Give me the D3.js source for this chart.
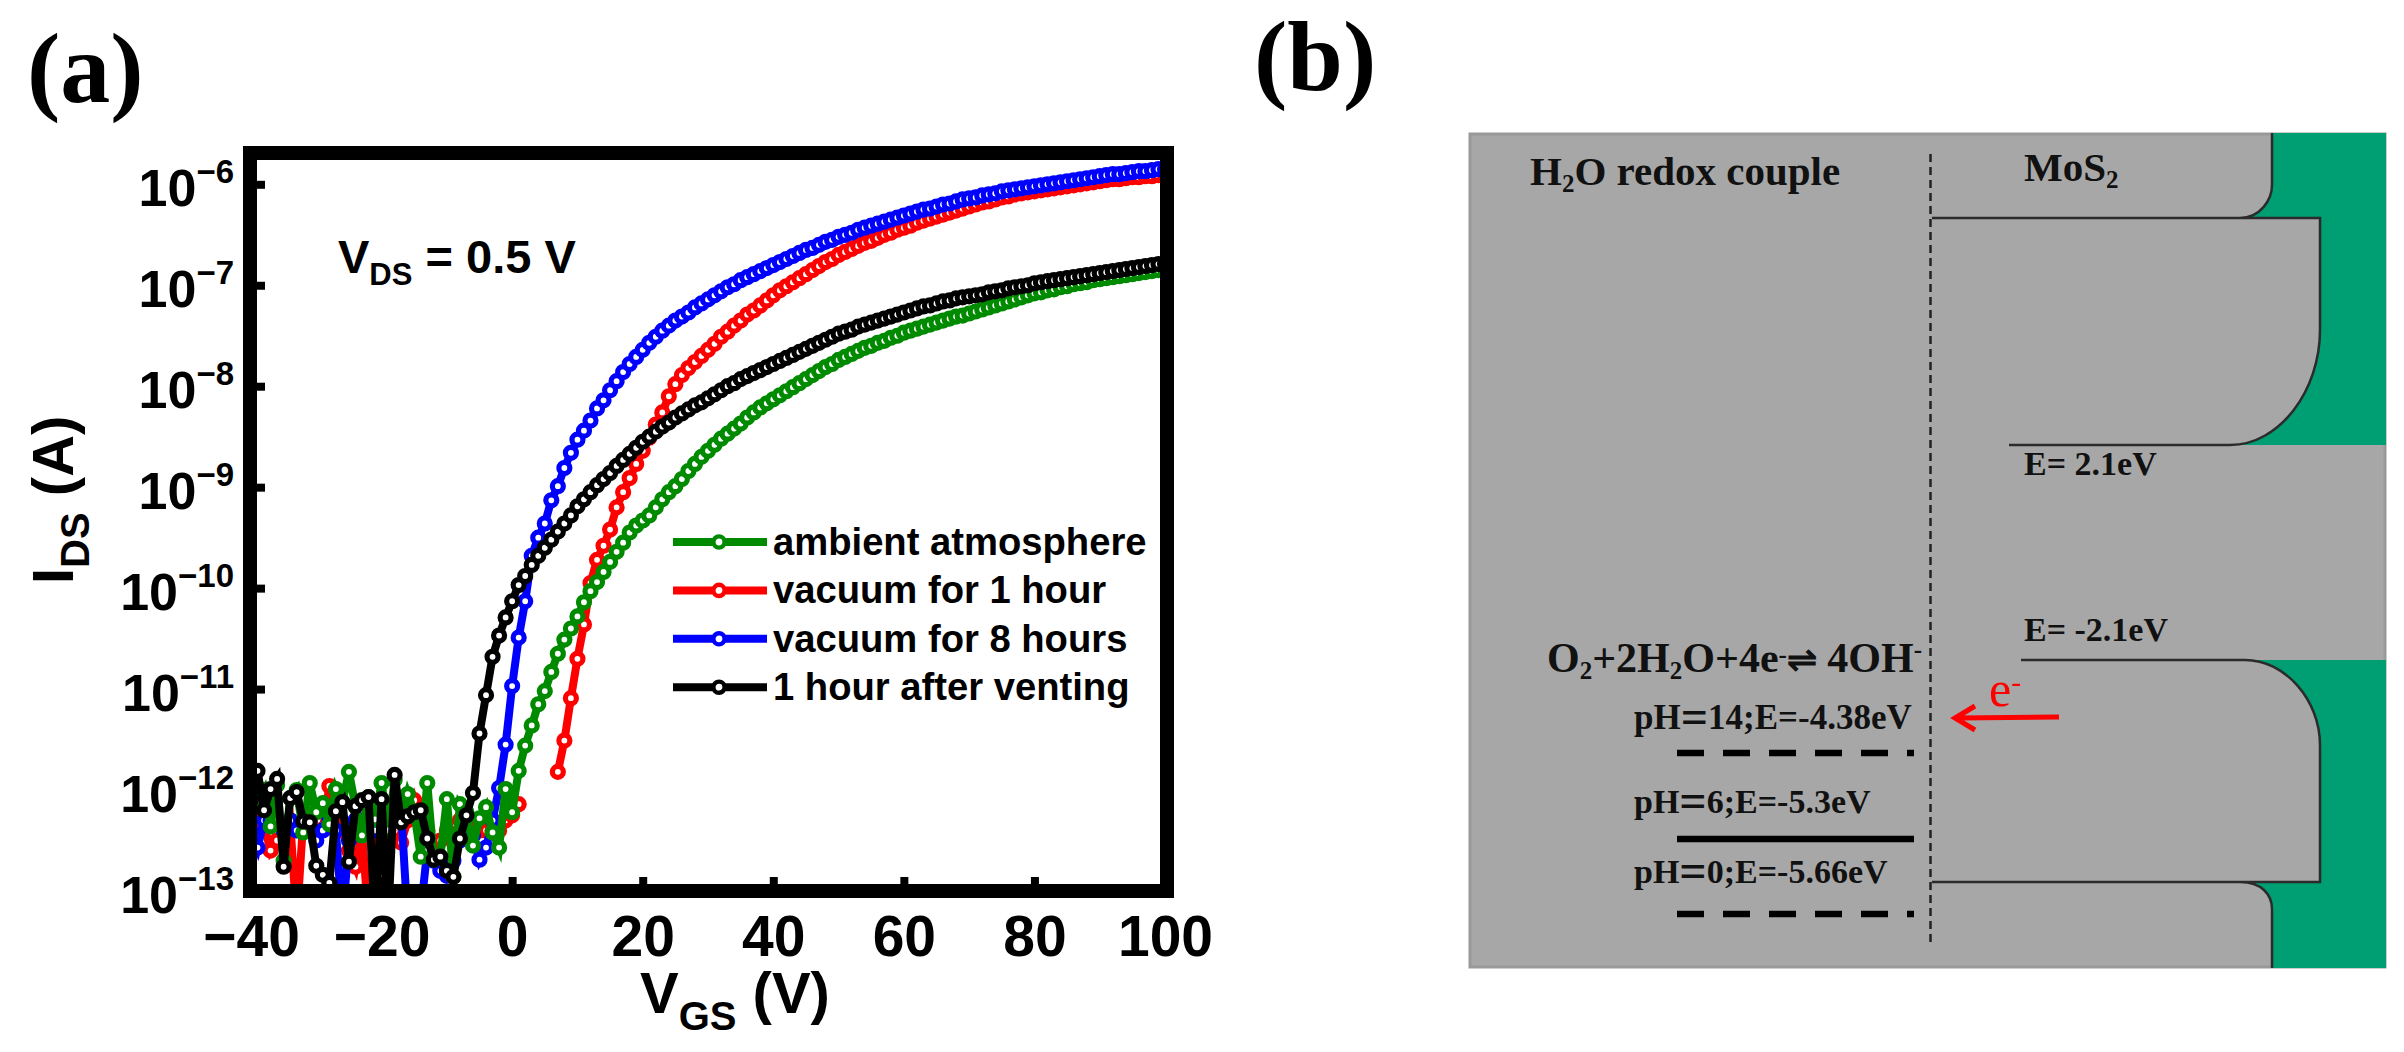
<!DOCTYPE html>
<html>
<head>
<meta charset="utf-8">
<script src="https://cdn.jsdelivr.net/npm/d3@7/dist/d3.min.js"></script>
<style>
    html, body { margin: 0; padding: 0; background: #fff; }
    svg { display: block; }
    .sans { font-family: "Liberation Sans", Arial, sans-serif; font-weight: bold; fill: #000; }
    .serif { font-family: "Liberation Serif", "Times New Roman", serif; font-weight: bold; fill: #111; }
</style>
</head>
<body>
<div id="chart"></div>
<script>
// gate voltage, 1 V steps
var vgs = d3.range(-40, 101);

// log10(IDS), one value per volt, -40 V to 100 V. null = no data
var logAmbient = [-12.1,-12.1,-12.0,-12.36,-11.95,-12.7,-12.08,-12.0,-12.42,-11.93,-12.22,-12.13,-12.34,-11.99,-12.12,-11.82,-12.16,-12.45,-12.07,-12.29,-11.93,-12.4,-11.9,-12.3,-12.04,-12.22,-12.66,-11.93,-12.69,-12.66,-12.09,-12.86,-12.14,-12.22,-12.55,-12.28,-12.17,-12.42,-12.57,-11.99,-12.22,
    -11.81,-11.56,-11.36,-11.15,-11.02,-10.83,-10.65,-10.51,-10.40,-10.28,-10.14,-10.03,-9.94,-9.84,-9.74,-9.64,-9.55,-9.45,-9.38,-9.33,-9.28,-9.20,-9.12,-9.05,-8.99,-8.92,-8.84,-8.77,-8.70,-8.64,
    -8.58,-8.52,-8.47,-8.42,-8.37,-8.31,-8.26,-8.21,-8.17,-8.13,-8.09,-8.05,-8.01,-7.97,-7.93,-7.89,-7.85,-7.81,-7.78,-7.74,
    -7.71,-7.68,-7.65,-7.62,-7.60,-7.57,-7.55,-7.52,-7.50,-7.47,-7.45,-7.43,-7.41,-7.39,-7.37,-7.35,-7.33,-7.31,-7.30,-7.28,
    -7.26,-7.24,-7.22,-7.20,-7.18,-7.16,-7.14,-7.12,-7.10,-7.08,-7.07,-7.05,-7.04,-7.02,-7.01,-6.99,-6.98,-6.97,-6.95,-6.94,
    -6.93,-6.92,-6.91,-6.90,-6.89,-6.88,-6.87,-6.86,-6.85,-6.84];

var logVac1h = [-12.3,-12.2,-12.35,-12.6,-12.5,-12.4,-12.3,-13.3,-12.3,-12.3,-12.45,-12.39,-11.96,-12.3,-12.4,-12.6,-12.76,-12.4,-13.3,-12.3,-12.2,-12.4,-12.4,-12.52,-12.3,-12.1,-12.3,-12.4,-12.6,-12.5,-12.4,-12.5,-12.3,-12.3,-12.4,-12.4,-12.4,-12.4,-12.4,-12.3,-12.25,
    -12.14,null,null,null,null,null,-11.82,-11.51,-11.09,-10.70,-10.36,-9.95,-9.72,-9.58,-9.42,-9.2,-9.05,-8.91,-8.77,-8.64,-8.51,-8.38,-8.26,-8.1,-7.98,-7.89,-7.82,-7.76,-7.70,-7.64,
    -7.58,-7.51,-7.46,-7.40,-7.35,-7.29,-7.25,-7.20,-7.15,-7.10,-7.05,-7.01,-6.97,-6.93,-6.89,-6.85,-6.81,-6.77,-6.74,-6.70,
    -6.67,-6.64,-6.61,-6.58,-6.56,-6.53,-6.50,-6.48,-6.45,-6.43,-6.41,-6.38,-6.36,-6.34,-6.32,-6.30,-6.28,-6.26,-6.24,-6.22,
    -6.20,-6.18,-6.17,-6.15,-6.13,-6.12,-6.10,-6.09,-6.08,-6.07,-6.06,-6.05,-6.04,-6.03,-6.02,-6.01,-6.00,-5.99,-5.98,-5.97,
    -5.96,-5.95,-5.95,-5.94,-5.93,-5.93,-5.92,-5.92,-5.91,-5.91];

var logVac8h = [-12.4,-12.57,-12.3,-12.3,-12.3,-12.4,-12.3,-12.4,-12.3,-12.4,-12.5,-12.4,-12.3,-12.4,-13.3,-12.5,-12.3,-12.3,-12.3,-12.4,-12.3,-12.4,-12.3,-12.2,-13.3,-13.3,-13.2,-12.6,-12.7,-12.8,-12.85,-12.7,-12.5,-12.4,-12.45,-12.69,-12.57,-12.3,-11.98,-11.55,-10.97,
    -10.49,-10.13,-9.68,-9.5,-9.36,-9.13,-8.99,-8.81,-8.66,-8.53,-8.44,-8.34,-8.22,-8.14,-8.04,-7.95,-7.86,-7.78,-7.71,-7.64,-7.57,-7.51,-7.45,-7.40,-7.35,-7.31,-7.27,-7.22,-7.18,-7.14,
    -7.10,-7.06,-7.02,-6.99,-6.95,-6.92,-6.89,-6.86,-6.83,-6.80,-6.77,-6.74,-6.71,-6.68,-6.65,-6.63,-6.60,-6.57,-6.55,-6.52,
    -6.50,-6.48,-6.45,-6.43,-6.41,-6.39,-6.37,-6.35,-6.33,-6.31,-6.29,-6.27,-6.25,-6.24,-6.22,-6.20,-6.19,-6.17,-6.15,-6.14,
    -6.13,-6.11,-6.10,-6.09,-6.07,-6.06,-6.05,-6.04,-6.03,-6.02,-6.01,-6.00,-5.99,-5.98,-5.97,-5.96,-5.95,-5.94,-5.93,-5.92,
    -5.91,-5.90,-5.90,-5.89,-5.88,-5.87,-5.87,-5.86,-5.85,-5.85];

var logVented = [-12.1,-11.81,-12.2,-11.99,-11.89,-12.76,-12.08,-12.02,-12.31,-12.32,-12.75,-12.84,-12.92,-12.21,-12.12,-12.71,-12.16,-12.1,-12.07,-13.3,-12.09,-13.3,-11.85,-12.32,-12.26,-12.22,-12.2,-12.48,-12.69,-12.66,-12.8,-12.86,-12.48,-12.25,-12.03,-11.44,-11.06,-10.68,-10.47,-10.29,-10.13,
    -9.97,-9.88,-9.77,-9.68,-9.60,-9.52,-9.44,-9.36,-9.28,-9.19,-9.12,-9.05,-8.98,-8.92,-8.86,-8.79,-8.73,-8.67,-8.61,-8.55,-8.50,-8.45,-8.40,-8.36,-8.31,-8.27,-8.23,-8.19,-8.16,-8.12,
    -8.08,-8.04,-8.00,-7.97,-7.93,-7.90,-7.87,-7.84,-7.81,-7.78,-7.75,-7.72,-7.69,-7.66,-7.63,-7.60,-7.57,-7.54,-7.51,-7.48,
    -7.46,-7.44,-7.41,-7.39,-7.37,-7.35,-7.33,-7.31,-7.29,-7.27,-7.25,-7.23,-7.21,-7.20,-7.18,-7.16,-7.15,-7.13,-7.12,-7.11,
    -7.10,-7.09,-7.07,-7.06,-7.05,-7.03,-7.02,-7.01,-7.00,-6.98,-6.97,-6.96,-6.95,-6.94,-6.93,-6.92,-6.91,-6.90,-6.89,-6.88,
    -6.87,-6.86,-6.85,-6.84,-6.83,-6.82,-6.81,-6.80,-6.79,-6.79];

var legendLabels = ["ambient atmosphere", "vacuum for 1 hour", "vacuum for 8 hours", "1 hour after venting"];
var legendValues = [logAmbient, logVac1h, logVac8h, logVented];
var legendColors = ["#008a00", "#ff0000", "#0000ff", "#000000"];
var drawOrder = [1, 2, 0, 3];

var xTicks = [-40, -20, 0, 20, 40, 60, 80, 100];
var yTicks = [-6, -7, -8, -9, -10, -11, -12, -13];

// panel b: energy levels in eV
var bandLevels = [2.1, -2.1];
var redoxLevels = [-4.38, -5.3, -5.66];
var redoxLabels = [["pH", "14;E=-4.38eV"], ["pH", "6;E=-5.3eV"], ["pH", "0;E=-5.66eV"]];
var redoxDash = ["27 19", null, "27 19"];

var svg = d3.select("#chart").append("svg").attr("width", 2404).attr("height", 1052);

/* ------- PANEL A -------*/
var x = d3.scaleLinear().domain([-40, 100]).range([251, 1165]);
var y = d3.scaleLinear().domain([-13, -5.69]).range([891, 153]);

svg.append("clipPath").attr("id", "plot").append("rect")
    .attr("x", 250).attr("y", 153).attr("width", 917).attr("height", 738);

var line = d3.line()
    .defined(function(d) { return d.v !== null; })
    .x(function(d) { return x(d.x); })
    .y(function(d) { return y(d.v); });

var plot = svg.append("g").attr("clip-path", "url(#plot)");

drawOrder.forEach(function(i) {
    var pts = vgs.map(function(v, j) { return { x: v, v: legendValues[i][j] }; });
    plot.append("path")
        .attr("d", line(pts))
        .attr("fill", "none")
        .attr("stroke", legendColors[i])
        .attr("stroke-width", 8);
    plot.append("g").selectAll("circle")
        .data(pts.filter(function(d) { return d.v !== null; }))
        .join("circle")
        .attr("cx", function(d) { return x(d.x); })
        .attr("cy", function(d) { return y(d.v); })
        .attr("r", 5.5)
        .attr("fill", "#fff")
        .attr("stroke", legendColors[i])
        .attr("stroke-width", 5.2);
});

var xAxis = svg.append("g").attr("transform", "translate(0,891)")
    .call(d3.axisBottom(x).tickValues(xTicks).tickSize(-14).tickFormat(function(d) {
        return String(d).replace("-", "\u2212");
    }));
xAxis.select(".domain").remove();
xAxis.selectAll("line").attr("stroke", "#000").attr("stroke-width", 8);
xAxis.selectAll("text").attr("class", "sans").attr("y", 65).attr("dy", 0)
    .style("font-size", "57px");

var yAxis = svg.append("g").attr("transform", "translate(251,0)")
    .call(d3.axisLeft(y).tickValues(yTicks).tickSize(-14));
yAxis.select(".domain").remove();
yAxis.selectAll("line").attr("stroke", "#000").attr("stroke-width", 8);
yAxis.selectAll("text").each(function(d) {
    var t = d3.select(this).text(null)
        .attr("class", "sans").attr("x", -17).attr("y", 21).attr("dy", 0)
        .attr("text-anchor", "end");
    t.append("tspan").style("font-size", "52px").text("10");
    t.append("tspan").style("font-size", "33px").attr("dy", -23).text("\u2212" + Math.abs(d));
});

svg.append("rect")
    .attr("x", 250).attr("y", 153).attr("width", 917).attr("height", 738)
    .attr("fill", "none").attr("stroke", "#000").attr("stroke-width", 14);

// text made of runs [string, font size, baseline shift]
function runs(sel, parts) {
    var last = 0;
    parts.forEach(function(p) {
        var shift = p[2] || 0;
        sel.append("tspan").style("font-size", p[1] + "px").attr("dy", shift - last).text(p[0]);
        last = shift;
    });
    return sel;
}

runs(svg.append("text").attr("class", "sans").attr("x", 640).attr("y", 1013),
    [["V", 58], ["GS", 40, 17], [" (V)", 58]]);
runs(svg.append("text").attr("class", "sans")
        .attr("transform", "translate(73,584) rotate(-90)"),
    [["I", 58], ["DS", 40, 16], [" (A)", 58]]);
runs(svg.append("text").attr("class", "sans").attr("x", 338).attr("y", 273),
    [["V", 47], ["DS", 31, 12], [" = 0.5 V", 47]]);

var legend = svg.append("g").selectAll("g")
    .data(legendLabels)
    .join("g")
    .attr("transform", function(d, i) { return "translate(0," + (542 + i * 48.4) + ")"; });
legend.append("line")
    .attr("x1", 673).attr("x2", 767)
    .attr("stroke", function(d, i) { return legendColors[i]; })
    .attr("stroke-width", 8);
legend.append("circle")
    .attr("cx", 719).attr("r", 5.6).attr("fill", "#fff")
    .attr("stroke", function(d, i) { return legendColors[i]; })
    .attr("stroke-width", 4.4);
legend.append("text")
    .attr("class", "sans").attr("x", 773).attr("y", 13)
    .style("font-size", "38.2px")
    .text(function(d) { return d; });

svg.append("text").attr("class", "serif").attr("x", 27).attr("y", 102)
    .style("font-size", "100px").style("fill", "#000").text("(a)");

/* ------- PANEL B -------*/
var eV = d3.scaleLinear()
    .domain(bandLevels.concat(redoxLevels))
    .range([445, 660, 753, 839, 914]);

var panelGray = "#a7a7a7", bandGreen = "#009e73", edge = "#2b2b2b";

svg.append("rect")
    .attr("x", 1470).attr("y", 134).attr("width", 915).attr("height", 833)
    .attr("fill", panelGray).attr("stroke", "#999").attr("stroke-width", 3);

var ec = eV(bandLevels[0]), ev = eV(bandLevels[1]);

// green regions, bent at the interface like the original sketch
var upper = d3.path();
upper.moveTo(2272, 133); upper.lineTo(2386, 133); upper.lineTo(2386, ec); upper.lineTo(2230, ec);
upper.bezierCurveTo(2280, ec, 2320, ec - 55, 2320, ec - 115);
upper.lineTo(2320, 218); upper.lineTo(2240, 218);
upper.bezierCurveTo(2260, 218, 2272, 200, 2272, 185);
upper.closePath();
svg.append("path").attr("d", upper.toString()).attr("fill", bandGreen);

var lower = d3.path();
lower.moveTo(2245, ev); lower.lineTo(2386, ev); lower.lineTo(2386, 968); lower.lineTo(2272, 968);
lower.lineTo(2272, 909);
lower.bezierCurveTo(2272, 895, 2262, 882, 2240, 882);
lower.lineTo(2320, 882); lower.lineTo(2320, ev + 85);
lower.bezierCurveTo(2320, ev + 40, 2285, ev, 2245, ev);
lower.closePath();
svg.append("path").attr("d", lower.toString()).attr("fill", bandGreen);

var edges = d3.path();
edges.moveTo(2272, 133); edges.lineTo(2272, 185);
edges.bezierCurveTo(2272, 200, 2260, 218, 2240, 218);
edges.moveTo(1932, 218); edges.lineTo(2320, 218); edges.lineTo(2320, ec - 115);
edges.bezierCurveTo(2320, ec - 55, 2280, ec, 2230, ec);
edges.lineTo(2009, ec);
edges.moveTo(2021, ev); edges.lineTo(2245, ev);
edges.bezierCurveTo(2285, ev, 2320, ev + 40, 2320, ev + 85);
edges.lineTo(2320, 882); edges.lineTo(1932, 882);
edges.moveTo(2240, 882);
edges.bezierCurveTo(2262, 882, 2272, 895, 2272, 909);
edges.lineTo(2272, 968);
svg.append("path").attr("d", edges.toString())
    .attr("fill", "none").attr("stroke", edge).attr("stroke-width", 2.5);

svg.append("line")
    .attr("x1", 1930.5).attr("x2", 1930.5).attr("y1", 154).attr("y2", 946)
    .attr("stroke", "#222").attr("stroke-width", 2.5).attr("stroke-dasharray", "8 5");

svg.append("g").selectAll("line")
    .data(redoxLevels)
    .join("line")
    .attr("x1", 1677).attr("x2", 1914)
    .attr("y1", function(d) { return eV(d); })
    .attr("y2", function(d) { return eV(d); })
    .attr("stroke", "#000")
    .attr("stroke-width", 6.5)
    .attr("stroke-dasharray", function(d, i) { return redoxDash[i]; });

runs(svg.append("text").attr("class", "serif").attr("x", 1530).attr("y", 185),
    [["H", 41], ["2", 25, 7], ["O redox couple", 41]]);
runs(svg.append("text").attr("class", "serif").attr("x", 2024).attr("y", 181),
    [["MoS", 41], ["2", 25, 7]]);
svg.append("text").attr("class", "serif").attr("x", 2024).attr("y", ec + 30)
    .style("font-size", "34px").text("E= " + bandLevels[0] + "eV");
svg.append("text").attr("class", "serif").attr("x", 2024).attr("y", ev - 19)
    .style("font-size", "34px").text("E= " + bandLevels[1] + "eV");
runs(svg.append("text").attr("class", "serif").attr("x", 1547).attr("y", 672),
    [["O", 42], ["2", 25, 7], ["+2H", 42], ["2", 25, 7], ["O+4e", 42], ["-", 25, -9],
     ["\u21CC", 36], [" 4OH", 42], ["-", 25, -14]]);

redoxLabels.forEach(function(p, i) {
    var size = i === 0 ? 35 : 34;
    runs(svg.append("text").attr("class", "serif").attr("x", 1634).attr("y", [729, 813, 883][i]),
        [[p[0], size], ["=", 48, 4], [p[1], size]]);
});

// electron transfer arrow
svg.append("path")
    .attr("d", "M2059,717L1957,718M1975,706L1955,718L1975,730")
    .attr("fill", "none").attr("stroke", "#ff0000").attr("stroke-width", 5);
runs(svg.append("text").attr("x", 1989).attr("y", 706)
        .style("font-family", "'Liberation Serif', serif").style("fill", "#ff0000"),
    [["e", 50], ["-", 30, -14]]);

svg.append("text").attr("class", "serif").attr("x", 1254).attr("y", 90)
    .style("font-size", "100px").style("fill", "#000").text("(b)");
</script>
</body>
</html>
